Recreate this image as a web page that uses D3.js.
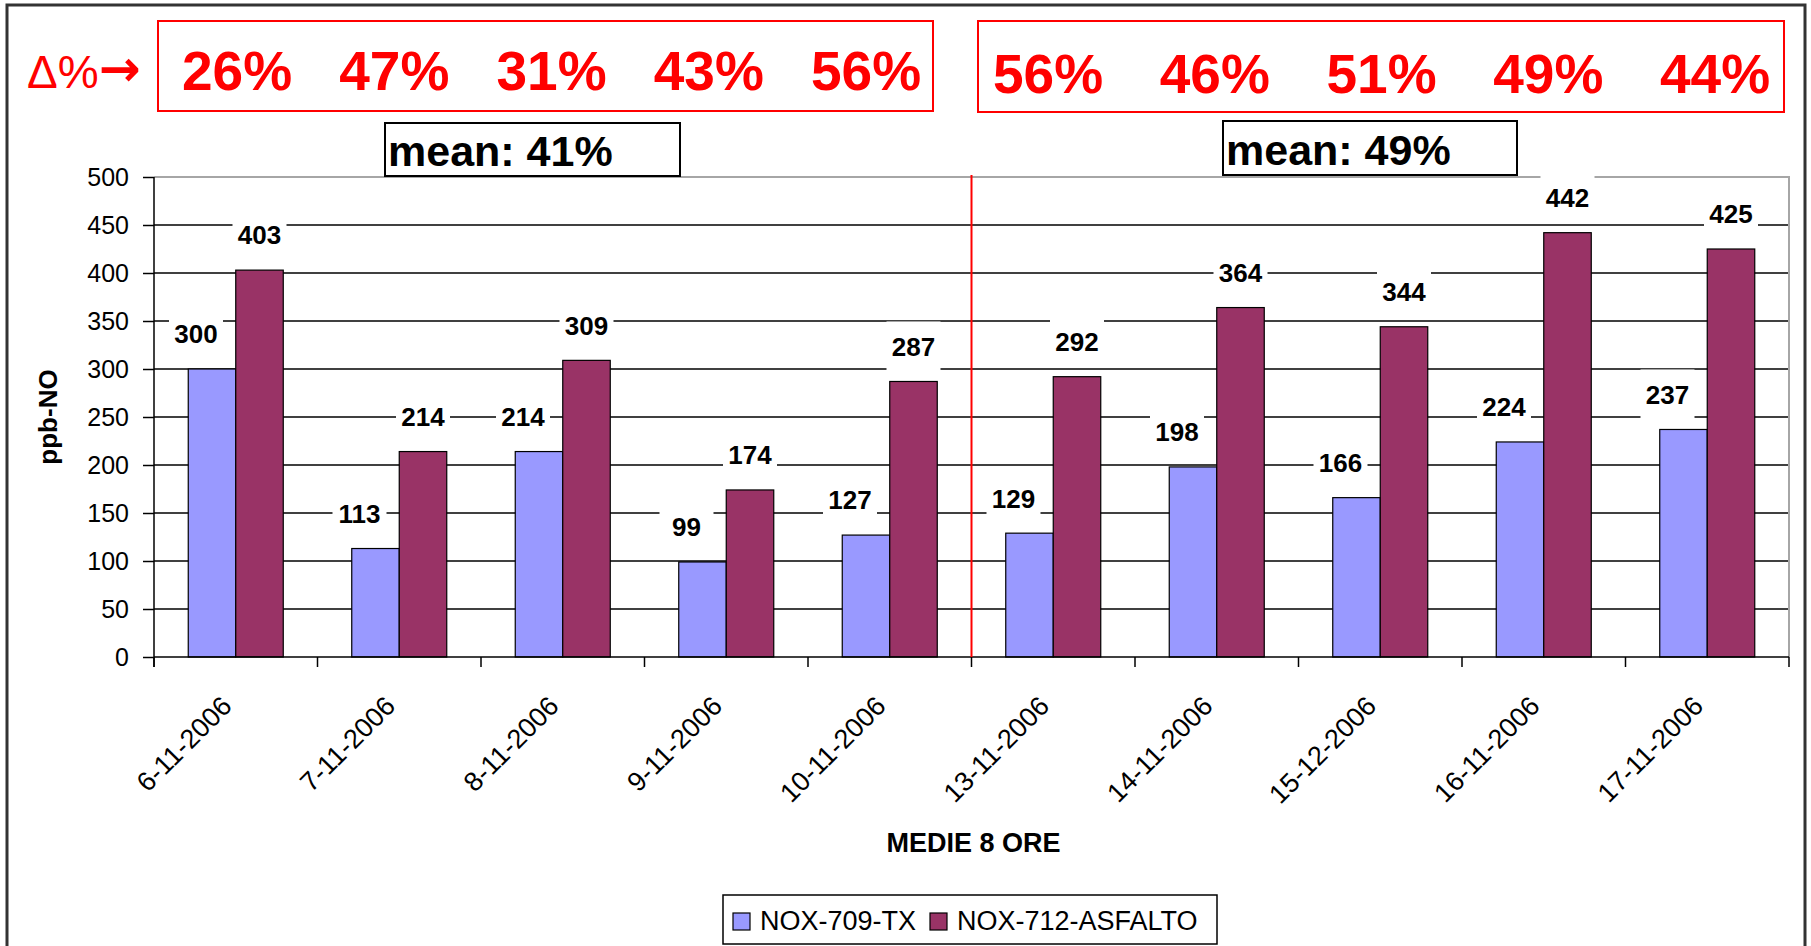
<!DOCTYPE html>
<html>
<head>
<meta charset="utf-8">
<script src="https://cdn.jsdelivr.net/npm/d3@7"></script>
<style>
  body { margin: 0; background: #fff; }
  svg { display: block; font-family: "Liberation Sans", Arial, sans-serif; }
</style>
</head>
<body>
<svg id="chart" width="1811" height="946"></svg>
<script>
// data
const dates = ["6-11-2006", "7-11-2006", "8-11-2006", "9-11-2006", "10-11-2006",
               "13-11-2006", "14-11-2006", "15-12-2006", "16-11-2006", "17-11-2006"];
const seriesNames = ["NOX-709-TX", "NOX-712-ASFALTO"];
const tx = [300, 113, 214, 99, 127, 129, 198, 166, 224, 237];
const asfalto = [403, 214, 309, 174, 287, 292, 364, 344, 442, 425];
const deltaWeek1 = ["26%", "47%", "31%", "43%", "56%"];
const deltaWeek2 = ["56%", "46%", "51%", "49%", "44%"];
const means = ["mean: 41%", "mean: 49%"];
const yTicks = [0, 50, 100, 150, 200, 250, 300, 350, 400, 450, 500];

const colors = ["#9999ff", "#993366"];

const svg = d3.select("#chart");
const plot = {left: 154, right: 1789, top: 177, bottom: 657};

const x = d3.scaleBand().domain(dates).range([plot.left, plot.right]);
const xs = d3.scaleBand().domain(seriesNames).range([0, 95]);
const y = d3.scaleLinear().domain([0, 500]).range([plot.bottom, plot.top]);

const rows = dates.map((d, i) => ({date: d, vals: [tx[i], asfalto[i]]}));

// outer frame
svg.append("rect")
  .attr("x", 7).attr("y", 5).attr("width", 1798).attr("height", 960)
  .attr("fill", "#fff").attr("stroke", "#333").attr("stroke-width", 3);

// gridlines
svg.append("g").selectAll("line")
  .data(yTicks.filter(t => t > 0 && t < 500))
  .join("line")
    .attr("x1", plot.left).attr("x2", plot.right)
    .attr("y1", d => y(d)).attr("y2", d => y(d))
    .attr("stroke", "#000").attr("stroke-width", 1.5);

// plot area border (top + right, grey)
svg.append("path")
  .attr("d", `M${plot.left},${y(500)}H${plot.right}V${plot.bottom}`)
  .attr("fill", "none").attr("stroke", "#a6a6a6").attr("stroke-width", 2);

// value label positions
const labelDx = [-16, 0];
const labels = [];
rows.forEach(r => {
  r.vals.forEach((v, k) => {
    labels.push({
      x: x(r.date) + (x.bandwidth() - 95) / 2 + xs(seriesNames[k]) + xs.bandwidth() / 2 + labelDx[k],
      y: y(v) - 35,
      text: v
    });
  });
});

// label backgrounds hide gridlines
svg.append("g").selectAll("rect")
  .data(labels)
  .join("rect")
    .attr("x", d => d.x - 27).attr("y", d => d.y - 25)
    .attr("width", 54).attr("height", 50)
    .attr("fill", "#fff");

// bars
const groups = svg.append("g").selectAll("g")
  .data(rows)
  .join("g")
    .attr("transform", d => `translate(${x(d.date) + (x.bandwidth() - 95) / 2},0)`);

groups.selectAll("rect")
  .data(d => d.vals.map((v, k) => ({key: seriesNames[k], v: v, k: k})))
  .join("rect")
    .attr("x", d => xs(d.key))
    .attr("y", d => y(d.v))
    .attr("width", xs.bandwidth())
    .attr("height", d => y(0) - y(d.v))
    .attr("fill", d => colors[d.k])
    .attr("stroke", "#000").attr("stroke-width", 1.2);

// value labels
svg.append("g").selectAll("text")
  .data(labels)
  .join("text")
    .attr("x", d => d.x).attr("y", d => d.y)
    .attr("dy", "0.36em")
    .attr("text-anchor", "middle")
    .attr("font-size", 26).attr("font-weight", "bold")
    .text(d => d.text);

// y axis
const yAxis = svg.append("g")
  .attr("transform", `translate(${plot.left},0)`)
  .call(d3.axisLeft(y).tickValues(yTicks).tickSize(11).tickPadding(14).tickSizeOuter(0));
yAxis.select(".domain").attr("d", `M0,${plot.top}V${plot.bottom + 10}`)
  .attr("stroke", "#000").attr("stroke-width", 1.5);
yAxis.selectAll(".tick line").attr("stroke", "#000").attr("stroke-width", 1.5);
yAxis.selectAll(".tick text")
  .attr("font-family", "Liberation Sans, Arial, sans-serif")
  .attr("font-size", 25).attr("fill", "#000");

// x axis: ticks on category boundaries
const bounds = dates.map(d => x(d)).concat([plot.right]);
svg.append("line")
  .attr("x1", plot.left).attr("x2", plot.right)
  .attr("y1", plot.bottom).attr("y2", plot.bottom)
  .attr("stroke", "#000").attr("stroke-width", 1.5);
svg.append("g").selectAll("line")
  .data(bounds)
  .join("line")
    .attr("x1", d => d).attr("x2", d => d)
    .attr("y1", plot.bottom).attr("y2", plot.bottom + 10)
    .attr("stroke", "#000").attr("stroke-width", 1.5);

svg.append("g").selectAll("text")
  .data(dates)
  .join("text")
    .attr("transform", d => `translate(${x(d) + x.bandwidth() / 2 - 9},${plot.bottom + 44}) rotate(-45)`)
    .attr("text-anchor", "end")
    .attr("dy", "0.35em")
    .attr("font-size", 27)
    .text(d => d);

// separator between the two weeks
svg.append("line")
  .attr("x1", x(dates[5])).attr("x2", x(dates[5]))
  .attr("y1", plot.top - 2).attr("y2", plot.bottom)
  .attr("stroke", "#ff0000").attr("stroke-width", 2);

// axis titles
svg.append("text")
  .attr("transform", `translate(57,${(plot.top + plot.bottom) / 2}) rotate(-90)`)
  .attr("text-anchor", "middle")
  .attr("font-size", 26).attr("font-weight", "bold")
  .text("ppb-NO");

svg.append("text")
  .attr("x", (plot.left + plot.right) / 2 + 2).attr("y", 852)
  .attr("text-anchor", "middle")
  .attr("font-size", 27).attr("font-weight", "bold")
  .text("MEDIE 8 ORE");

// delta boxes on top
const dl = svg.append("text")
  .attr("x", 27).attr("y", 88)
  .attr("font-size", 46).attr("fill", "#ff0000");
dl.append("tspan").text("Δ%");
dl.append("tspan")
  .attr("font-family", "DejaVu Sans")
  .attr("font-size", 50).attr("font-weight", "bold")
  .attr("dy", -2)
  .text("→");

const deltaBoxes = [
  {x0: 158, x1: 933, y0: 21, y1: 111, vals: deltaWeek1, pad: [79, 67], base: 90},
  {x0: 978, x1: 1784, y0: 21, y1: 112, vals: deltaWeek2, pad: [70, 69], base: 93}
];
deltaBoxes.forEach(b => {
  svg.append("rect")
    .attr("x", b.x0).attr("y", b.y0)
    .attr("width", b.x1 - b.x0).attr("height", b.y1 - b.y0)
    .attr("fill", "none").attr("stroke", "#ff0000").attr("stroke-width", 2);
  const px = d3.scalePoint().domain(d3.range(b.vals.length)).range([b.x0 + b.pad[0], b.x1 - b.pad[1]]);
  svg.append("g").selectAll("text")
    .data(b.vals)
    .join("text")
      .attr("x", (d, i) => px(i)).attr("y", b.base)
      .attr("text-anchor", "middle")
      .attr("font-size", 55).attr("font-weight", "bold")
      .attr("fill", "#ff0000")
      .text(d => d);
});

// mean boxes
const meanBoxes = [{x0: 385, x1: 680, y0: 123, y1: 176}, {x0: 1223, x1: 1517, y0: 121, y1: 175}];
meanBoxes.forEach((b, i) => {
  svg.append("rect")
    .attr("x", b.x0).attr("y", b.y0)
    .attr("width", b.x1 - b.x0).attr("height", b.y1 - b.y0)
    .attr("fill", "#fff").attr("stroke", "#000").attr("stroke-width", 2);
  svg.append("text")
    .attr("x", b.x0 + 3).attr("y", b.y1 - 10)
    .attr("font-size", 43).attr("font-weight", "bold")
    .text(means[i]);
});

// legend
const leg = svg.append("g");
leg.append("rect")
  .attr("x", 723).attr("y", 895).attr("width", 494).attr("height", 49)
  .attr("fill", "#fff").attr("stroke", "#000").attr("stroke-width", 1.5);
const legX = [733, 930];
seriesNames.forEach((s, k) => {
  leg.append("rect")
    .attr("x", legX[k]).attr("y", 913).attr("width", 17).attr("height", 17)
    .attr("fill", colors[k]).attr("stroke", "#000").attr("stroke-width", 1.2);
  leg.append("text")
    .attr("x", legX[k] + 27).attr("y", 930)
    .attr("font-size", 27)
    .text(s);
});
</script>
</body>
</html>
